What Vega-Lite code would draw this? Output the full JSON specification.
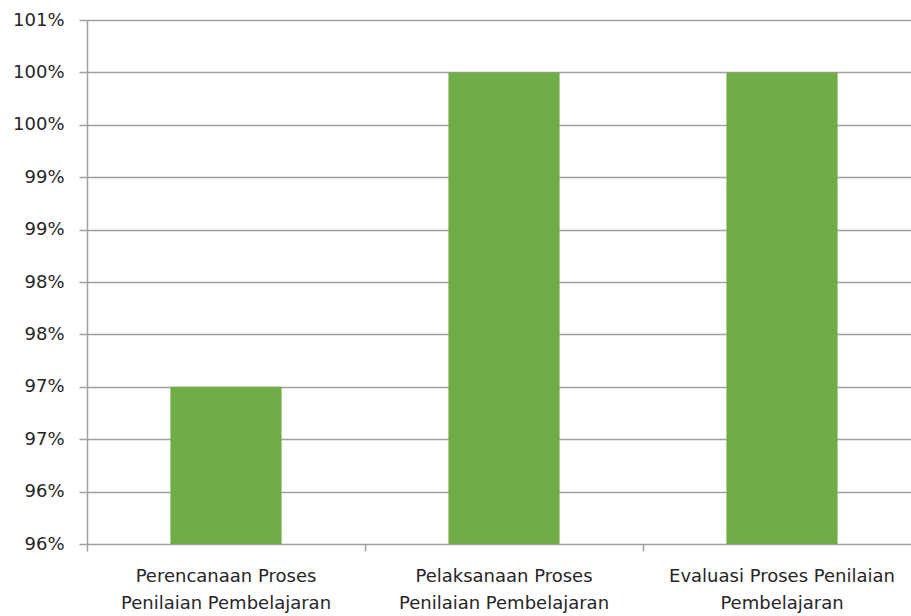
{
  "$schema": "https://vega.github.io/schema/vega-lite/v6.json",
  "autosize": "none",
  "padding": {"left": 87, "top": 20, "right": 0, "bottom": 72},
  "width": 824,
  "height": 524,
  "background": "white",
  "data": {
    "values": [
      {"aspek": "Perencanaan Proses Penilaian Pembelajaran", "persen": 97},
      {"aspek": "Pelaksanaan Proses Penilaian Pembelajaran", "persen": 100},
      {"aspek": "Evaluasi Proses Penilaian Pembelajaran", "persen": 100}
    ]
  },
  "mark": {"type": "bar", "color": "#70ad47", "width": {"band": 0.4}, "clip": true},
  "encoding": {
    "x": {
      "field": "aspek",
      "type": "nominal",
      "sort": null,
      "scale": {"range": [0, 834], "paddingInner": 0, "paddingOuter": 0},
      "axis": {
        "title": null,
        "labelAngle": 0,
        "bandPosition": 0,
        "domain": false,
        "ticks": true,
        "tickSize": 7,
        "tickColor": "#a0a0a0",
        "tickWidth": 1.5,
        "labelAlign": "center",
        "labelPadding": 16,
        "labelLimit": 400,
        "labelFont": "DejaVu Sans",
        "labelFontSize": 18,
        "labelColor": "#262626",
        "labelLineHeight": 27,
        "labelExpr": "datum.value == 'Evaluasi Proses Penilaian Pembelajaran' ? ['Evaluasi Proses Penilaian', 'Pembelajaran'] : (datum.value == 'Perencanaan Proses Penilaian Pembelajaran' ? ['Perencanaan Proses', 'Penilaian Pembelajaran'] : ['Pelaksanaan Proses', 'Penilaian Pembelajaran'])"
      }
    },
    "y": {
      "field": "persen",
      "type": "quantitative",
      "scale": {"domain": [95.5, 100.5], "zero": false, "nice": false},
      "axis": {
        "title": null,
        "values": [95.5, 96, 96.5, 97, 97.5, 98, 98.5, 99, 99.5, 100, 100.5],
        "labelExpr": "round(datum.value) + '%'",
        "grid": true,
        "gridColor": "#a0a0a0",
        "gridWidth": 1.5,
        "domain": true,
        "domainColor": "#a0a0a0",
        "domainWidth": 1.5,
        "tickColor": "#a0a0a0",
        "tickWidth": 1.5,
        "tickSize": 8,
        "labelPadding": 15,
        "labelFont": "DejaVu Sans",
        "labelFontSize": 18,
        "labelColor": "#262626"
      }
    }
  },
  "config": {"view": {"stroke": null}}
}
